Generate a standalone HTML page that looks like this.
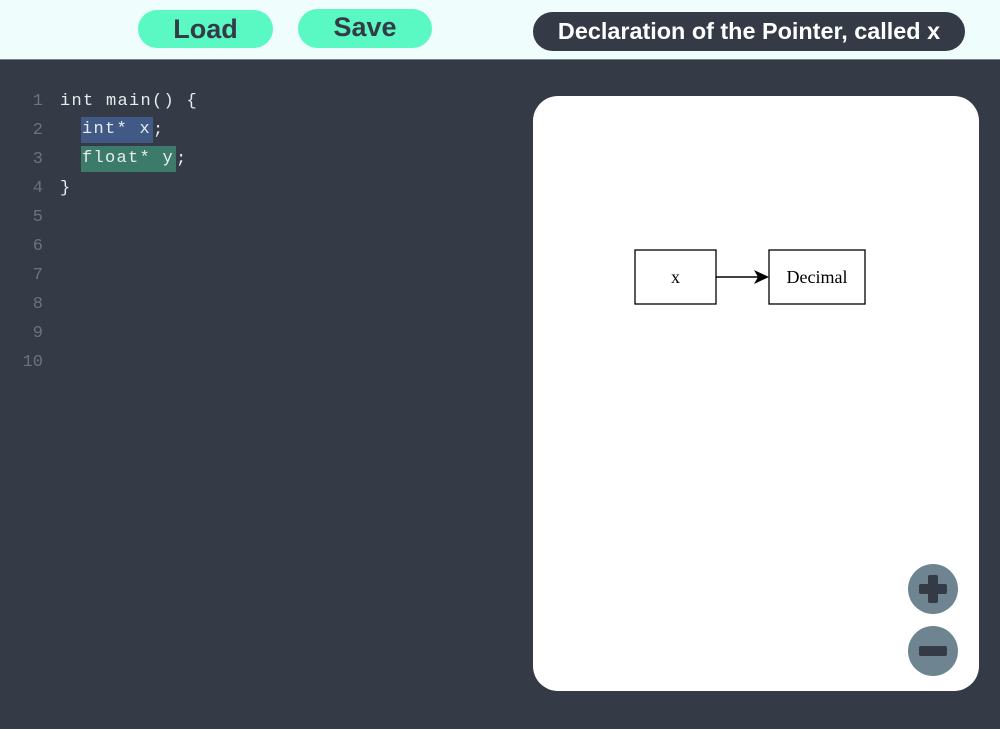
<!DOCTYPE html>
<html><head><style>
body{margin:0;width:1000px;height:729px;background:#343a46;overflow:hidden;font-family:"Liberation Sans",sans-serif;position:relative}
.hdr{position:absolute;left:0;top:0;width:1000px;height:59px;background:#effefd;border-bottom:1px solid #7a8088}
.btn{position:absolute;background:#5af8c3;border-radius:20px;color:#343a46;font-weight:bold;font-size:27px;text-align:center}
.title{position:absolute;left:533px;top:12px;width:432px;height:39px;border-radius:20px;background:#343a46;color:#fff;font-weight:bold;font-size:23.4px;line-height:39px;text-align:center}
.code{position:absolute;left:0;top:87px;font-family:"Liberation Mono",monospace;font-size:17px;letter-spacing:1.3px;color:#e8ecef;white-space:pre}
.ln{display:block;height:29px;line-height:29px}
.n{display:inline-block;width:43px;text-align:right;color:#6a7380;margin-right:17px;letter-spacing:0}
.hb,.hg{display:inline-block;height:26px;line-height:26px;vertical-align:top;margin-top:1px;padding:0 2px 0 1px;margin-left:-2px}
.hb{background:#415a85}.hg{background:#3c7a6a}
.panel{position:absolute;left:533px;top:96px;width:446px;height:595px;background:#fff;border-radius:25px}
.zb{position:absolute;left:908px;width:50px;height:50px;border-radius:50%;background:#6e8591}
</style></head><body>
<div class="hdr"></div>
<div class="btn" style="left:138px;top:10px;width:135px;height:38px;line-height:38px">Load</div>
<div class="btn" style="left:298px;top:9px;width:134px;height:39px;line-height:36px">Save</div>
<div class="title">Declaration of the Pointer, called x</div>
<div class="code"><span class="ln"><span class="n">1</span>int main() {</span><span class="ln"><span class="n">2</span>  <span class="hb">int* x</span>;</span><span class="ln"><span class="n">3</span>  <span class="hg">float* y</span>;</span><span class="ln"><span class="n">4</span>}</span><span class="ln"><span class="n">5</span></span><span class="ln"><span class="n">6</span></span><span class="ln"><span class="n">7</span></span><span class="ln"><span class="n">8</span></span><span class="ln"><span class="n">9</span></span><span class="ln"><span class="n">10</span></span></div>
<div class="panel"></div>
<svg style="position:absolute;left:0;top:0" width="1000" height="729">
<rect x="635" y="250" width="81" height="54" fill="#fff" stroke="#000" stroke-width="1.3"/>
<text x="675.5" y="283" font-family="Liberation Serif,serif" font-size="18" text-anchor="middle">x</text>
<rect x="769" y="250" width="96" height="54" fill="#fff" stroke="#000" stroke-width="1.3"/>
<text x="817" y="283" font-family="Liberation Serif,serif" font-size="18" text-anchor="middle">Decimal</text>
<line x1="716" y1="277" x2="762" y2="277" stroke="#000" stroke-width="1.5"/>
<path d="M754,270 L769,277 L754,284 L758,277 Z" fill="#000"/>
</svg>
<div class="zb" style="top:564px"></div>
<div class="zb" style="top:626px"></div>
<svg style="position:absolute;left:0;top:0" width="1000" height="729">
<rect x="919" y="584" width="28" height="10" rx="2" fill="#343a46"/>
<rect x="928" y="575" width="10" height="28" rx="2" fill="#343a46"/>
<rect x="919" y="646" width="28" height="10" rx="2" fill="#343a46"/>
</svg>
</body></html>
